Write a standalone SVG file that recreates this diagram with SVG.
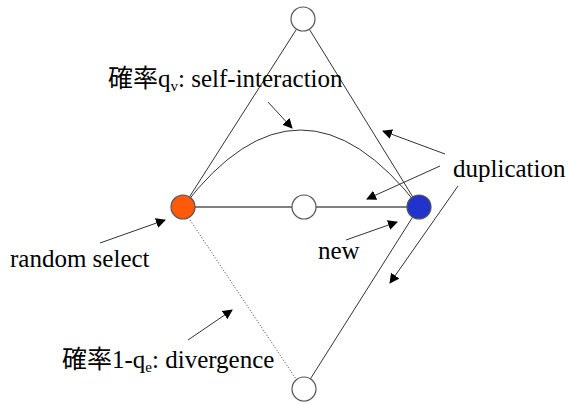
<svg xmlns="http://www.w3.org/2000/svg" width="571" height="405" viewBox="0 0 571 405">
<style>
.t{font-family:"Liberation Serif","Times New Roman","Noto Sans CJK JP",serif;font-size:25px;fill:#000}
.e{stroke:#333;stroke-width:1;fill:none}
.h{stroke:#808080;stroke-width:2;fill:none}
.a{stroke:#333;stroke-width:1;fill:none;marker-end:url(#ah)}
.n{stroke:#555;stroke-width:1.2}
</style>
<defs>
<marker id="ah" viewBox="0 0 10 10" refX="9" refY="5" markerWidth="10" markerHeight="10" markerUnits="userSpaceOnUse" orient="auto">
<path d="M0,0 L10,5 L0,10 z" fill="#000"/>
</marker>
</defs>
<rect width="571" height="405" fill="#fff"/>
<g id="connectors">
<line class="e" x1="183" y1="207" x2="303" y2="19"/>
<line class="e" x1="303" y1="19" x2="419" y2="207"/>
<line class="h" x1="183" y1="207" x2="419" y2="207"/>
<path class="e" d="M183,207 Q300,53 419,207"/>
<line class="e" x1="419" y1="207" x2="304" y2="389"/>
<line class="e" x1="190" y1="220" x2="296" y2="379" stroke-dasharray="1,2"/>
<line class="a" x1="268" y1="102" x2="292" y2="128"/>
<line class="a" x1="445" y1="154" x2="383" y2="131"/>
<line class="a" x1="440" y1="166" x2="367" y2="199"/>
<line class="a" x1="458" y1="186" x2="390" y2="283"/>
<line class="a" x1="346" y1="240" x2="397" y2="222"/>
<line class="a" x1="100" y1="243" x2="165" y2="220"/>
<line class="a" x1="188" y1="340" x2="232" y2="310"/>
</g>
<g id="node-top"><circle class="n" cx="303" cy="19" r="12" fill="#fff"/></g>
<g id="node-orange"><circle class="n" cx="183" cy="207" r="12" fill="#ff5a0a"/></g>
<g id="node-middle"><circle class="n" cx="304" cy="207" r="12" fill="#fff"/></g>
<g id="node-blue"><circle class="n" cx="419" cy="207" r="12" fill="#2233cc"/></g>
<g id="node-bottom"><circle class="n" cx="304" cy="389" r="12" fill="#fff"/></g>
<g id="labels">
<text class="t" x="108" y="87">確率q<tspan font-size="15" dy="4">v</tspan><tspan dy="-4">: self-interaction</tspan></text>
<text class="t" x="453" y="177">duplication</text>
<text class="t" x="10" y="267">random select</text>
<text class="t" x="318" y="259">new</text>
<text class="t" x="62" y="368">確率1-q<tspan font-size="15" dy="4">e</tspan><tspan dy="-4">: divergence</tspan></text>
</g>
</svg>
